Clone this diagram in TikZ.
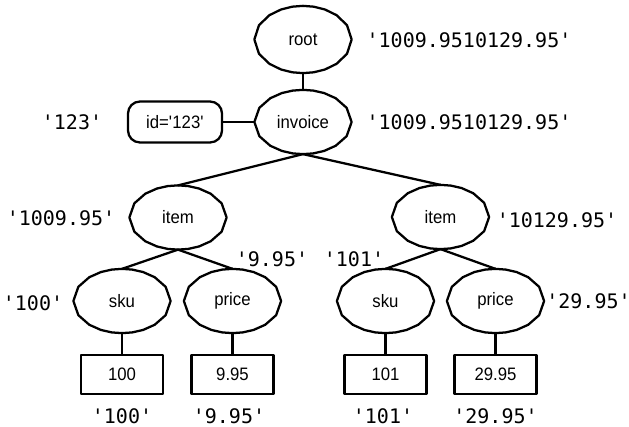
\documentclass[tikz,border=0pt]{standalone}
\usepackage{fontspec}
\usetikzlibrary{shapes.geometric}
\newfontfamily\labfont{Liberation Sans}[FakeStretch=0.93]
\newfontfamily\monofont{DejaVu Sans Mono}
\newcommand\myq{\textquotesingle}
\begin{document}
\begin{tikzpicture}[x=0.75pt,y=-0.75pt,
  line width=1.7pt, line join=round,
  oval/.style={ellipse,inner sep=0pt,minimum width=71.25pt,minimum height=46.5pt,
    font=\labfont\fontsize{13.5pt}{16pt}\selectfont},
  valbox/.style={rectangle,draw,inner sep=0pt,minimum width=61.5pt,minimum height=29.25pt,
    font=\labfont\fontsize{13.5pt}{16pt}\selectfont},
  attrbox/.style={rectangle,draw,rounded corners=9pt,inner sep=0pt,minimum width=70.5pt,minimum height=30.75pt,
    font=\labfont\fontsize{13.5pt}{16pt}\selectfont},
  val/.style={inner sep=0pt,font=\monofont\fontsize{15pt}{18pt}\selectfont}]
\useasboundingbox (0,0) rectangle (629,427);
% element nodes
\node[oval,minimum height=48.75pt] (root) at (303,39.5) {root};
\node[oval] (inv) at (303,122) {invoice};
\node[attrbox] (id) at (175,122) {id=\myq123\myq};
\node[oval] (itemL) at (178,217.5) {item};
\node[oval] (itemR) at (440.5,217) {item};
\node[oval] (skuL) at (122,301) {sku};
\node[oval] (priceL) at (232.5,301) {price};
\node[oval] (skuR) at (385.5,301) {sku};
\node[oval] (priceR) at (495.5,301) {price};
\node[valbox] (b100) at (122,374.5) {100};
\node[valbox] (b995) at (232.5,374.5) {9.95};
\node[valbox] (b101) at (385.5,374.5) {101};
\node[valbox] (b2995) at (495.5,374.5) {29.95};
% polygonal outlines of the element ovals
\foreach \n in {root,inv,itemL,itemR,skuL,priceL,skuR,priceR}
  \draw (\n.0) \foreach \a in {18,36,...,342} { -- (\n.\a) } -- cycle;
% string values
\node[val] (vroot) at (469,40.7) {\myq1009.9510129.95\myq};
\node[val] (vinv) at (469,122.3) {\myq1009.9510129.95\myq};
\node[val] (vid) at (72,122.5) {\myq123\myq};
\node[val] (vitemL) at (61,218) {\myq1009.95\myq};
\node[val] (vitemR) at (557,220) {\myq10129.95\myq};
\node[val] (vskuL) at (33,303) {\myq100\myq};
\node[val] (vpriceL) at (272,259) {\myq9.95\myq};
\node[val] (vskuR) at (354,259) {\myq101\myq};
\node[val] (vpriceR) at (588.5,301.7) {\myq29.95\myq};
\node[val] (v100) at (122,416.5) {\myq100\myq};
\node[val] (v995) at (229,416.5) {\myq9.95\myq};
\node[val] (v101) at (383,416.5) {\myq101\myq};
\node[val] (v2995) at (495.5,416.5) {\myq29.95\myq};
% connectors
\draw (root.south) -- (inv.north);
\draw (id.east) -- (inv.west);
\draw (inv.south) -- (itemL.north);
\draw (inv.south) -- (itemR.north);
\draw (itemL.south) -- (skuL.north);
\draw (itemL.south) -- (priceL.north);
\draw (itemR.south) -- (skuR.north);
\draw (itemR.south) -- (priceR.north);
\draw (skuL.south) -- (b100.north);
\draw (priceL.south) -- (b995.north);
\draw (skuR.south) -- (b101.north);
\draw (priceR.south) -- (b2995.north);
\end{tikzpicture}
\end{document}
